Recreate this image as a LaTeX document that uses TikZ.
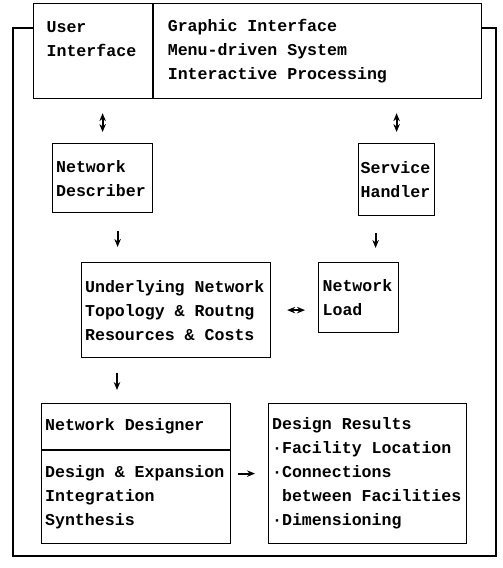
\documentclass[tikz,border=0pt]{standalone}
\usepackage{fontspec}
\setmonofont{Liberation Mono}
\usetikzlibrary{arrows.meta}

\begin{document}
\begin{tikzpicture}[x=1pt, y=-1pt, line width=1.2pt,
  box/.style={draw, fill=white, anchor=north west, align=left, inner ysep=0pt,
    font=\ttfamily\bfseries\fontsize{16.6}{24}\selectfont,
    execute at begin node={\spaceskip=0.6em\relax}},
  arr/.style={-{Stealth[length=8pt,width=6.5pt]}, line width=1.8pt},
  dbl/.style={{Stealth[length=8pt,width=6.5pt]}-{Stealth[length=8pt,width=6.5pt]}, line width=1.8pt}]
  \useasboundingbox (0,0) rectangle (503,568);
  \draw (13,28) rectangle (496,556);
  \node[box, inner xsep=13pt, text width=93pt, minimum height=95pt] (ui) at (33,3) {User\\Interface\\\mbox{}};
  \node[box, inner xsep=14pt, text width=300pt, minimum height=95pt] (uif) at (ui.north east) {Graphic Interface\\Menu-driven System\\Interactive Processing};
  \node[box, inner xsep=3.5pt, text width=93pt, minimum height=69pt] (nd) at (52,143) {Network\\Describer};
  \node[box, inner xsep=2pt, text width=72pt, minimum height=72pt] (sh) at (358,143) {Service\\Handler};
  \node[box, inner xsep=3.5pt, text width=182pt, minimum height=95pt] (ul) at (81,262) {Underlying Network\\Topology \& Routng\\Resources \& Costs};
  \node[box, inner xsep=4pt, text width=72pt, minimum height=70pt] (nl) at (318,262) {Network\\Load};
  \node[box, inner xsep=3.5pt, text width=182pt, minimum height=46pt] (ndt) at (41,403) {Network Designer};
  \node[box, inner xsep=3.5pt, text width=182pt, minimum height=93pt] (ndb) at (ndt.south west) {Design \& Expansion\\Integration\\Synthesis};
  \node[box, inner xsep=3.5pt, text width=191pt, minimum height=140pt] (dr) at (268,403) {Design Results\\\textperiodcentered Facility Location\\\textperiodcentered Connections\\\hspace*{0.6em}between Facilities\\\textperiodcentered Dimensioning};
  \path[arr]
  (ui.south -| nd.north) edge[dbl, shorten <=14pt, shorten >=11pt] (nd.north)
  (uif.south -| sh.north) edge[dbl, shorten <=14pt, shorten >=11pt] (sh.north)
  ([xshift=15pt]nd.south) edge[shorten <=18pt, shorten >=15pt] ([xshift=15pt]nd.south |- ul.north)
  ([xshift=-21pt]sh.south) edge[shorten <=17pt, shorten >=14pt] ([xshift=-21pt]sh.south |- nl.north)
  ([xshift=36pt]ul.south west) edge[shorten <=15pt, shorten >=13pt] ([xshift=36pt]ul.south west |- ndt.north)
  (ul.east) edge[dbl, shorten <=16pt, shorten >=13pt] (ul.east -| nl.west)
  (dr.west -| ndb.east) edge[shorten <=7pt, shorten >=13pt] (dr.west)
  ;
\end{tikzpicture}
\end{document}
